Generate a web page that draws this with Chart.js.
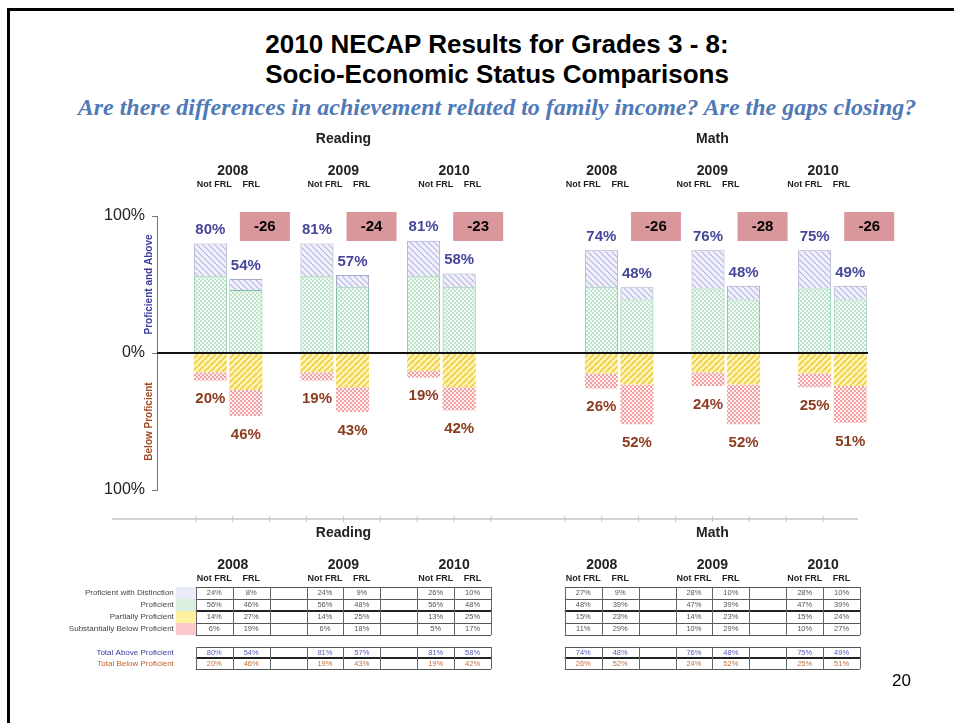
<!DOCTYPE html>
<html>
<head>
<meta charset="utf-8">
<title>2010 NECAP Results - Socio-Economic Status Comparisons</title>
<script src="https://cdn.jsdelivr.net/npm/chart.js@4.4.1/dist/chart.umd.min.js"></script>
<style>
  body { margin: 0; width: 954px; height: 723px; overflow: hidden; background: #fff; position: relative; font-family: Arial, "Liberation Sans", sans-serif; }
  #frame { position: absolute; left: 7px; top: 8px; width: 960px; height: 730px; border-top: 3px solid #000; border-left: 3px solid #000; }
  #title { position: absolute; top: 29px; left: 20px; width: 954px; text-align: center; font-weight: bold; font-size: 26px; line-height: 30px; color: #000; }
  #subtitle { position: absolute; top: 94px; left: 20px; width: 954px; text-align: center; font: italic bold 24px "Liberation Serif", "Times New Roman", serif; color: #5079b6; }
  #page { position: absolute; left: 892px; top: 671px; font-size: 17px; color: #000; }
  canvas { position: absolute; left: 0; top: 0; }
  #table { pointer-events: none; }
</style>
</head>
<body>
<div id="frame"></div>
<div id="title">2010 NECAP Results for Grades 3 - 8:<br>Socio-Economic Status Comparisons</div>
<div id="subtitle">Are there differences in achievement related to family income? Are the gaps closing?</div>
<canvas id="bars" width="954" height="723"></canvas>
<canvas id="table" width="954" height="723"></canvas>
<div id="page">20</div>

<script>
// DATA (order: Reading 08 NotFRL, 08 FRL, 09 NotFRL, 09 FRL, 10 NotFRL, 10 FRL, then Math same)
const subjects = ["Reading", "Math"];
const years = ["2008", "2009", "2010"];
const groups = ["Not FRL", "FRL"];
const levels = ["Proficient with Distinction", "Proficient", "Partially Proficient", "Substantially Below Proficient"];

const distinction = [24, 8, 24, 9, 26, 10, 27, 9, 28, 10, 28, 10];
const proficient = [56, 46, 56, 48, 56, 48, 48, 39, 47, 39, 47, 39];
const partial = [14, 27, 14, 25, 13, 25, 15, 23, 14, 23, 15, 24];
const substBelow = [6, 19, 6, 18, 5, 17, 11, 29, 10, 29, 10, 27];
const totalAbove = [80, 54, 81, 57, 81, 58, 74, 48, 76, 48, 75, 49];
const totalBelow = [20, 46, 19, 43, 19, 42, 26, 52, 24, 52, 25, 51];

const yTicks = [-100, 0, 100];

// slot layout for the bar chart: null = empty slot
const slotBar = [null];
subjects.forEach(function (s, si) {
  years.forEach(function (y, yi) {
    slotBar.push(si * 6 + yi * 2, si * 6 + yi * 2 + 1);
    if (yi < years.length - 1) slotBar.push(null);
  });
  if (si === 0) slotBar.push(null, null, null);
});
const pick = (arr, sign) => slotBar.map(b => (b === null ? null : sign * arr[b]));
const slotLabels = slotBar.map((b, i) => (b === null ? "gap" + i : subjects[Math.floor(b / 6)] + " " + years[Math.floor((b % 6) / 2)] + " " + groups[b % 2]));

// PATTERNS
function makePattern(bg, fg, kind, lw) {
  const c = document.createElement("canvas");
  const n = kind === "check" ? 4 : 6;
  c.width = n; c.height = n;
  const g = c.getContext("2d");
  g.fillStyle = bg;
  g.fillRect(0, 0, n, n);
  g.fillStyle = fg;
  g.strokeStyle = fg;
  if (kind === "check") {
    g.fillRect(0, 0, 2, 2);
    g.fillRect(2, 2, 2, 2);
  } else {
    g.lineWidth = lw;
    g.beginPath();
    [-n, 0, n].forEach(function (k) {
      if (kind === "down") { g.moveTo(k, 0); g.lineTo(k + n, n); }
      else { g.moveTo(k, n); g.lineTo(k + n, 0); }
    });
    g.stroke();
  }
  return g.createPattern(c, "repeat");
}
const patDist = makePattern("#f1f1fb", "#b6b6e2", "down", 1.2);
const patProf = makePattern("#f4fbf7", "#bfe3cd", "check");
const patPart = makePattern("#fff6bd", "#f0d24e", "up", 2);
const patSub = makePattern("#fff0f0", "#f3a0a3", "check");

const swatchColors = ["#e9ebf8", "#d9f0e1", "#fff0a0", "#fbc9c9"];

// LABELS ON BARS
const barLabels = {
  id: "barLabels",
  afterDatasetsDraw(chart) {
    const g = chart.ctx, y = chart.scales.y, a = chart.chartArea;
    const top = chart.getDatasetMeta(1).data;
    const bottom = chart.getDatasetMeta(3).data;
    g.save();
    // zero line
    g.strokeStyle = "#111";
    g.lineWidth = 2;
    g.beginPath();
    g.moveTo(a.left, y.getPixelForValue(0));
    g.lineTo(a.right, y.getPixelForValue(0));
    g.stroke();

    g.textAlign = "center";
    g.font = "bold 15px Arial";
    slotBar.forEach(function (b, i) {
      if (b === null) return;
      g.fillStyle = "#46469a";
      g.textBaseline = "bottom";
      g.fillText(totalAbove[b] + "%", top[i].x, top[i].y - 6);
      g.fillStyle = "#8c3c1e";
      g.textBaseline = "top";
      g.fillText(totalBelow[b] + "%", bottom[i].x, bottom[i].y + 11);
    });

    // gap boxes
    g.textBaseline = "middle";
    for (let b = 1; b < totalAbove.length; b += 2) {
      const el = top[slotBar.indexOf(b)];
      const bx = el.x - 6, by = y.getPixelForValue(100) - 4;
      g.fillStyle = "#d9969b";
      g.fillRect(bx, by, 50, 29);
      g.fillStyle = "#000";
      g.fillText(String(totalAbove[b] - totalAbove[b - 1]), bx + 25, by + 15);
    }

    // y axis titles
    g.font = "bold 10px Arial";
    [["Proficient and Above", 50, "#3c3ca0"], ["Below Proficient", -50, "#a04a22"]].forEach(function (t) {
      g.save();
      g.translate(a.left - 8, y.getPixelForValue(t[1]));
      g.rotate(-Math.PI / 2);
      g.fillStyle = t[2];
      g.fillText(t[0], 0, 0);
      g.restore();
    });
    g.restore();
  }
};

new Chart(document.getElementById("bars"), {
  type: "bar",
  data: {
    labels: slotLabels,
    datasets: [
      { label: levels[1], data: pick(proficient, 1), backgroundColor: patProf, borderColor: "#7fc09e", borderWidth: 1 },
      { label: levels[0], data: pick(distinction, 1), backgroundColor: patDist, borderColor: "#a9a9c8", borderWidth: 1 },
      { label: levels[2], data: pick(partial, -1), backgroundColor: patPart, borderWidth: 0 },
      { label: levels[3], data: pick(substBelow, -1), backgroundColor: patSub, borderWidth: 0 }
    ]
  },
  options: {
    responsive: false,
    animation: false,
    layout: { padding: { left: 100, right: 86, top: 216, bottom: 233 } },
    datasets: { bar: { barPercentage: 0.93, categoryPercentage: 1 } },
    plugins: { legend: { display: false }, tooltip: { enabled: false } },
    scales: {
      x: { stacked: true, display: false },
      y: {
        stacked: true,
        min: yTicks[0],
        max: yTicks[2],
        afterFit: function (s) { s.width = 57; },
        afterBuildTicks: function (s) { s.ticks = yTicks.map(v => ({ value: v })); },
        ticks: { callback: v => Math.abs(v) + "%", font: { family: "Arial", size: 16 }, color: "#222", padding: 7 },
        grid: { color: "rgba(0,0,0,0)", tickColor: "#777", tickLength: 5, tickWidth: 1 },
        border: { color: "#777", width: 1 }
      }
    }
  },
  plugins: [barLabels]
});

// TABLE + HEADERS (second chart, own category scale for the table columns)
const tableSlots = Array.from({ length: 20 }, (v, i) => "col" + i);
const tableSlot = b => 2 + Math.floor(b / 6) * 10 + Math.floor((b % 6) / 2) * 3 + (b % 2);
const levelValues = [distinction, proficient, partial, substBelow];

const tablePlugin = {
  id: "tablePlugin",
  afterDraw(chart) {
    const g = chart.ctx, x = chart.scales.x, a = chart.chartArea;
    const w = (a.right - a.left) / tableSlots.length;
    const edge = i => a.left + i * w;
    const mid = i => x.getPixelForValue(i);
    const T = a.top;
    g.save();
    g.textAlign = "center";
    g.textBaseline = "middle";

    // headers (top block above the bars and lower block above the table)
    [T - 380, T + 14].forEach(function (y0) {
      subjects.forEach(function (s, si) {
        const f = 2 + si * 10;
        g.fillStyle = "#222";
        g.font = "bold 14px Arial";
        g.fillText(s, (edge(f) + edge(f + 8)) / 2, y0);
        years.forEach(function (yr, yi) {
          const c = f + yi * 3;
          g.font = "bold 14px Arial";
          g.fillText(yr, (edge(c) + edge(c + 2)) / 2, y0 + 32);
          g.font = "bold 9px Arial";
          g.fillText(groups[0], mid(c), y0 + 46);
          g.fillText(groups[1], mid(c + 1), y0 + 46);
        });
      });
    });

    // axis line with ticks
    g.strokeStyle = "#c4c4c4";
    g.lineWidth = 1.5;
    g.beginPath();
    g.moveTo(a.left - 10, T);
    g.lineTo(a.right - 2, T);
    g.stroke();
    g.lineWidth = 1;
    g.beginPath();
    [2, 3, 4, 5, 6, 7, 8, 9, 10, 12, 13, 14, 15, 16, 17, 18, 19].forEach(function (k) {
      g.moveTo(edge(k), T - 3);
      g.lineTo(edge(k), T + 3);
    });
    g.stroke();

    const rowH = 12, top1 = T + 68, top2 = T + 128, totH = 11;

    // swatches + row labels
    g.textAlign = "right";
    g.font = "8px Arial";
    levels.forEach(function (lv, r) {
      g.fillStyle = swatchColors[r];
      g.fillRect(edge(2) - 20, top1 + r * rowH, 20, rowH);
      g.fillStyle = "#444";
      g.fillText(lv, edge(2) - 22, top1 + r * rowH + rowH / 2);
    });
    g.fillStyle = "#3a3aa0";
    g.fillText("Total Above Proficient", edge(2) - 22, top2 + totH / 2);
    g.fillStyle = "#c0602a";
    g.fillText("Total Below Proficient", edge(2) - 22, top2 + totH * 1.5);

    // cell values
    g.textAlign = "center";
    g.font = "7.5px Arial";
    for (let b = 0; b < distinction.length; b++) {
      const cx = mid(tableSlot(b));
      g.fillStyle = "#555";
      levelValues.forEach(function (arr, r) {
        g.fillText(arr[b] + "%", cx, top1 + r * rowH + rowH / 2);
      });
      g.fillStyle = "#5a5ac0";
      g.fillText(totalAbove[b] + "%", cx, top2 + totH / 2);
      g.fillStyle = "#c07040";
      g.fillText(totalBelow[b] + "%", cx, top2 + totH * 1.5);
    }

    // grid lines
    function grid(x0, x1, yTop, h, rows, thick) {
      g.strokeStyle = "#555";
      g.lineWidth = 1;
      g.beginPath();
      for (let r = 0; r <= rows; r++) {
        if (r === thick) continue;
        g.moveTo(x0, yTop + r * h + 0.5);
        g.lineTo(x1, yTop + r * h + 0.5);
      }
      g.stroke();
      g.strokeStyle = "#222";
      g.lineWidth = 2;
      g.beginPath();
      g.moveTo(x0, yTop + thick * h);
      g.lineTo(x1, yTop + thick * h);
      g.stroke();
    }
    subjects.forEach(function (s, si) {
      const f = 2 + si * 10;
      grid(edge(f), edge(f + 8), top1, rowH, 4, 2);
      grid(edge(f), edge(f + 8), top2, totH, 2, 1);
      g.strokeStyle = "#666";
      g.lineWidth = 1;
      g.beginPath();
      for (let k = 0; k <= 8; k++) {
        const xx = Math.round(edge(f + k)) + 0.5;
        g.moveTo(xx, top1);
        g.lineTo(xx, top1 + 4 * rowH);
        g.moveTo(xx, top2);
        g.lineTo(xx, top2 + 2 * totH);
      }
      g.stroke();
    });
    g.restore();
  }
};

new Chart(document.getElementById("table"), {
  type: "bar",
  data: { labels: tableSlots, datasets: [] },
  options: {
    responsive: false,
    animation: false,
    layout: { padding: { left: 122, right: 94, top: 519, bottom: 30 } },
    plugins: { legend: { display: false }, tooltip: { enabled: false } },
    scales: { x: { display: false, offset: true }, y: { display: false } }
  },
  plugins: [tablePlugin]
});
</script>
</body>
</html>
